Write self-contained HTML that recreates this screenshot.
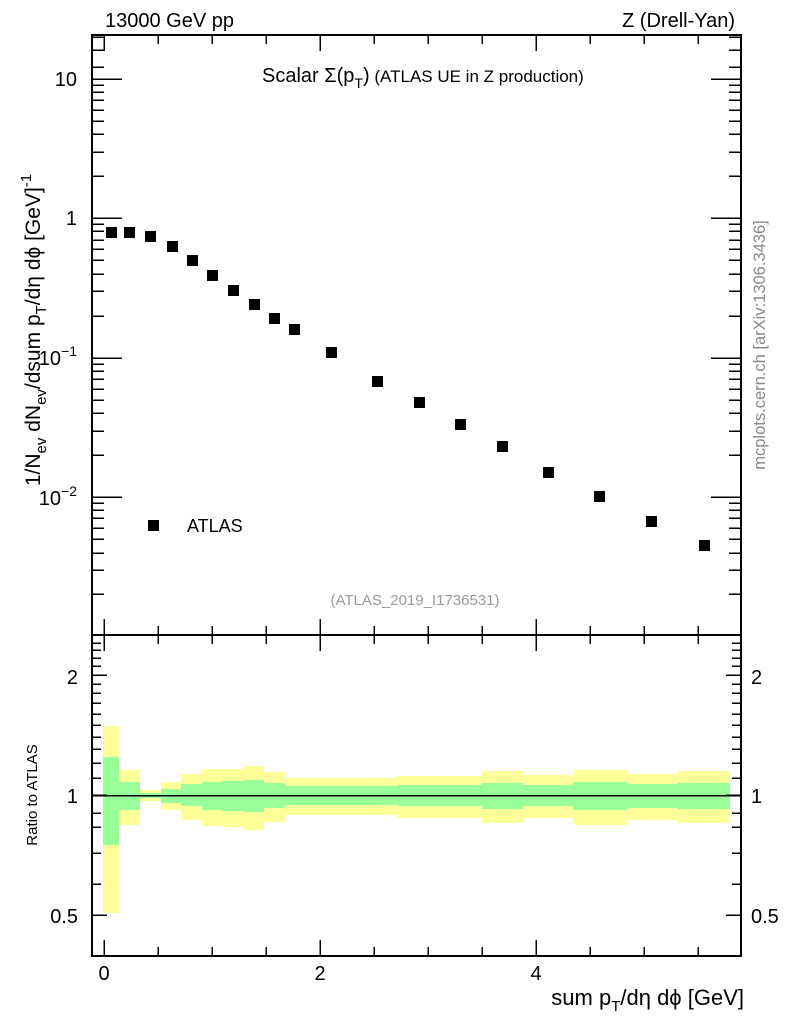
<!DOCTYPE html>
<html><head><meta charset="utf-8"><style>
body{margin:0;background:#fff}
svg{display:block;font-family:"Liberation Sans",sans-serif}
</style></head><body>
<svg width="786" height="1024" viewBox="0 0 786 1024" xmlns="http://www.w3.org/2000/svg">
<g shape-rendering="crispEdges">
<g fill="#ffff99">
<rect x="103" y="726" width="16" height="187"/>
<rect x="119" y="770" width="21" height="55"/>
<rect x="140" y="790" width="21" height="11"/>
<rect x="161" y="782" width="20" height="28"/>
<rect x="181" y="774" width="21" height="46"/>
<rect x="202" y="769" width="20" height="57"/>
<rect x="222" y="769" width="21" height="58"/>
<rect x="243" y="766" width="21" height="64"/>
<rect x="264" y="772" width="21" height="50"/>
<rect x="285" y="778" width="21" height="37"/>
<rect x="306" y="778" width="50" height="37"/>
<rect x="356" y="778" width="42" height="37"/>
<rect x="398" y="776" width="42" height="42"/>
<rect x="440" y="776" width="42" height="42"/>
<rect x="482" y="771" width="41" height="52"/>
<rect x="523" y="775" width="50" height="43"/>
<rect x="573" y="770" width="54" height="55"/>
<rect x="627" y="774" width="51" height="46"/>
<rect x="678" y="771" width="52" height="52"/>
</g>
<g fill="#99ff99">
<rect x="103" y="757" width="16" height="88"/>
<rect x="119" y="782" width="21" height="28"/>
<rect x="140" y="793" width="21" height="5"/>
<rect x="161" y="789" width="20" height="14"/>
<rect x="181" y="784" width="21" height="22"/>
<rect x="202" y="782" width="20" height="28"/>
<rect x="222" y="781" width="21" height="30"/>
<rect x="243" y="780" width="21" height="32"/>
<rect x="264" y="783" width="21" height="25"/>
<rect x="285" y="786" width="21" height="19"/>
<rect x="306" y="786" width="50" height="19"/>
<rect x="356" y="786" width="42" height="19"/>
<rect x="398" y="785" width="42" height="21"/>
<rect x="440" y="785" width="42" height="21"/>
<rect x="482" y="783" width="41" height="26"/>
<rect x="523" y="785" width="50" height="21"/>
<rect x="573" y="782" width="54" height="28"/>
<rect x="627" y="784" width="51" height="24"/>
<rect x="678" y="783" width="52" height="26"/>
</g>
<line x1="91" y1="795.5" x2="741" y2="795.5" stroke="#000" stroke-width="1.5"/>
<rect x="92" y="35" width="649" height="600" fill="none" stroke="#000" stroke-width="2"/>
<rect x="92" y="635" width="649" height="321" fill="none" stroke="#000" stroke-width="2"/>
<g fill="#000">
<rect x="106" y="227" width="11" height="11"/>
<rect x="124" y="227" width="11" height="11"/>
<rect x="145" y="231" width="11" height="11"/>
<rect x="167" y="241" width="11" height="11"/>
<rect x="187" y="255" width="11" height="11"/>
<rect x="207" y="270" width="11" height="11"/>
<rect x="228" y="285" width="11" height="11"/>
<rect x="249" y="299" width="11" height="11"/>
<rect x="269" y="313" width="11" height="11"/>
<rect x="289" y="324" width="11" height="11"/>
<rect x="326" y="347" width="11" height="11"/>
<rect x="372" y="376" width="11" height="11"/>
<rect x="414" y="397" width="11" height="11"/>
<rect x="455" y="419" width="11" height="11"/>
<rect x="497" y="441" width="11" height="11"/>
<rect x="543" y="467" width="11" height="11"/>
<rect x="594" y="491" width="11" height="11"/>
<rect x="646" y="516" width="11" height="11"/>
<rect x="699" y="540" width="11" height="11"/>
<rect x="148" y="520" width="11" height="11"/>
</g>
<path stroke="#000" stroke-width="1.5" fill="none" d="
M104 635V619M104 35V51M104 956V940M104 635V651
M158 635V626M158 35V44M158 956V947M158 635V644
M212 635V626M212 35V44M212 956V947M212 635V644
M266 635V626M266 35V44M266 956V947M266 635V644
M320 635V619M320 35V51M320 956V940M320 635V651
M374 635V626M374 35V44M374 956V947M374 635V644
M428 635V626M428 35V44M428 956V947M428 635V644
M482 635V626M482 35V44M482 956V947M482 635V644
M536 635V619M536 35V51M536 956V940M536 635V651
M590 635V626M590 35V44M590 956V947M590 635V644
M644 635V626M644 35V44M644 956V947M644 635V644
M698 635V626M698 35V44M698 956V947M698 635V644
M92 79H122M741 79H711
M92 218H122M741 218H711
M92 358H122M741 358H711
M92 497H122M741 497H711
M92 37H104M741 37H729
M92 50H104M741 50H729
M92 67H104M741 67H729
M92 176H104M741 176H729
M92 152H104M741 152H729
M92 134H104M741 134H729
M92 121H104M741 121H729
M92 110H104M741 110H729
M92 100H104M741 100H729
M92 92H104M741 92H729
M92 85H104M741 85H729
M92 316H104M741 316H729
M92 291H104M741 291H729
M92 274H104M741 274H729
M92 260H104M741 260H729
M92 249H104M741 249H729
M92 240H104M741 240H729
M92 231H104M741 231H729
M92 224H104M741 224H729
M92 455H104M741 455H729
M92 431H104M741 431H729
M92 413H104M741 413H729
M92 400H104M741 400H729
M92 389H104M741 389H729
M92 379H104M741 379H729
M92 371H104M741 371H729
M92 364H104M741 364H729
M92 594H104M741 594H729
M92 570H104M741 570H729
M92 553H104M741 553H729
M92 539H104M741 539H729
M92 528H104M741 528H729
M92 518H104M741 518H729
M92 510H104M741 510H729
M92 503H104M741 503H729
M92 675H107M741 675H726
M92 795H107M741 795H726
M92 915H107M741 915H726
M92 884H101M741 884H732
M92 853H101M741 853H732
M92 827H101M741 827H732
M92 813H101M741 813H732
M92 778H101M741 778H732
M92 763H101M741 763H732
M92 749H101M741 749H732
M92 737H101M741 737H732
M92 725H101M741 725H732
M92 714H101M741 714H732
M92 703H101M741 703H732
M92 693H101M741 693H732
M92 684H101M741 684H732
M92 666H101M741 666H732
M92 658H101M741 658H732
M92 650H101M741 650H732
M92 643H101M741 643H732
"/>
</g>
<g font-size="20" fill="#000">
<text x="105" y="27">13000 GeV pp</text>
<text x="735" y="27" text-anchor="end">Z (Drell-Yan)</text>
<text x="77" y="86" text-anchor="end">10</text>
<text x="77" y="225" text-anchor="end">1</text>
<text x="77" y="365" text-anchor="end">10<tspan font-size="14" dy="-9">−1</tspan></text>
<text x="77" y="505" text-anchor="end">10<tspan font-size="14" dy="-9">−2</tspan></text>
<text x="78" y="684" text-anchor="end">2</text>
<text x="78" y="803" text-anchor="end">1</text>
<text x="78" y="923" text-anchor="end">0.5</text>
<text x="751" y="684">2</text>
<text x="751" y="803">1</text>
<text x="751" y="923">0.5</text>
<text x="104" y="980" text-anchor="middle">0</text>
<text x="320" y="980" text-anchor="middle">2</text>
<text x="536" y="980" text-anchor="middle">4</text>
<text x="744" y="1005" text-anchor="end" font-size="22">sum p<tspan font-size="15" dy="6">T</tspan><tspan dy="-6">/dη dϕ [GeV]</tspan></text>
<text x="187" y="532" font-size="18">ATLAS</text>
<text x="262" y="82" font-size="20">Scalar Σ(p<tspan font-size="14" dy="6">T</tspan><tspan dy="-6">)</tspan><tspan font-size="17"> (ATLAS UE in Z production)</tspan></text>
<text x="415" y="605" font-size="15" fill="#999" text-anchor="middle">(ATLAS_2019_I1736531)</text>
<text transform="translate(40,330) rotate(-90)" text-anchor="middle" font-size="21">1/N<tspan font-size="15" dy="6">ev</tspan><tspan dy="-6"> dN</tspan><tspan font-size="15" dy="6">ev</tspan><tspan dy="-6">/dsum p</tspan><tspan font-size="15" dy="6">T</tspan><tspan dy="-6">/dη dϕ  [GeV]</tspan><tspan font-size="15" dy="-9">-1</tspan></text>
<text transform="translate(37,795) rotate(-90)" text-anchor="middle" font-size="15">Ratio to ATLAS</text>
<text transform="translate(765,345) rotate(-90)" text-anchor="middle" font-size="16.5" fill="#888">mcplots.cern.ch [arXiv:1306.3436]</text>
</g>
</svg>
</body></html>
